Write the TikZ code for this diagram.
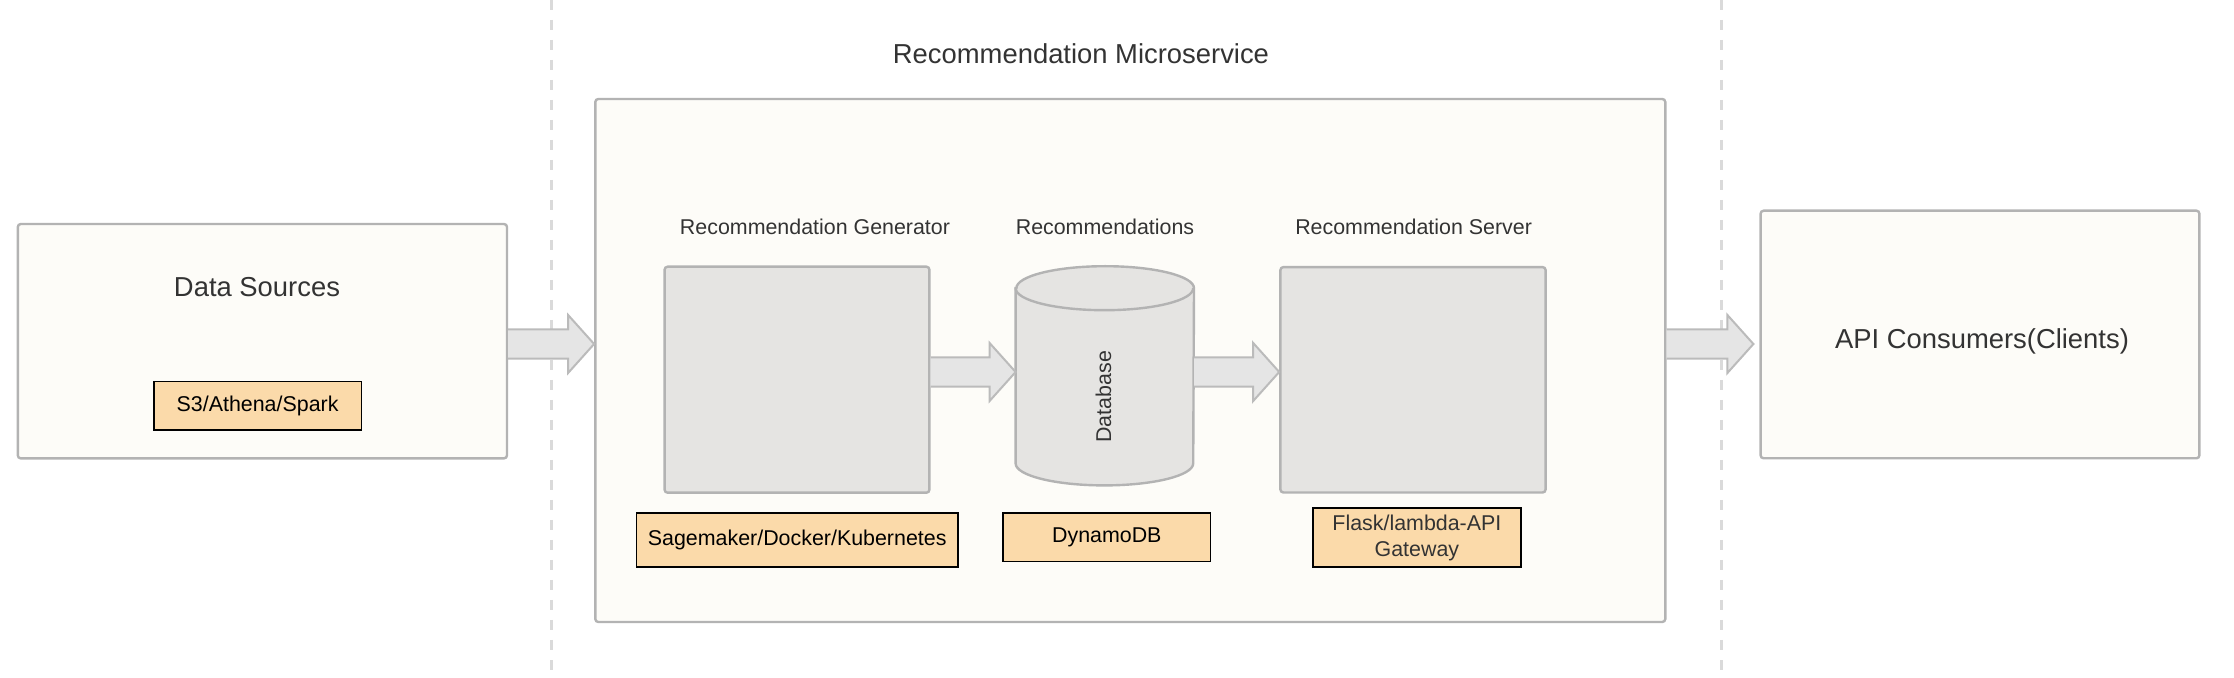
\documentclass[tikz,border=0pt]{standalone}
\usepackage{fontspec}
\setmainfont{Liberation Sans}
\usetikzlibrary{calc,positioning}

\definecolor{boxline}{HTML}{B3B3B3}
\definecolor{paper}{HTML}{FDFCF8}
\definecolor{innerfill}{HTML}{E5E4E2}
\definecolor{peach}{HTML}{FBDAAA}
\definecolor{sepline}{HTML}{DADADA}
\definecolor{textgray}{HTML}{333333}
\definecolor{arrowfill}{HTML}{E5E5E5}
\definecolor{arrowline}{HTML}{BBBBBB}

\tikzset{
  bigtext/.style={font=\fontsize{13.7}{16.4}\selectfont, text=textgray},
  smalltext/.style={font=\fontsize{10.7}{12.8}\selectfont, text=textgray},
  outerbox/.style={draw=boxline, fill=paper, line width=1.2pt, rounded corners=1.5pt, inner sep=0pt},
  innerbox/.style={draw=boxline, fill=innerfill, line width=1.2pt, rounded corners=1.5pt, inner sep=0pt},
  techbox/.style={draw=black, fill=peach, line width=0.8pt, inner sep=0pt, align=center,
    font=\fontsize{10.7}{12.8}\selectfont},
  blockarrow/.style={draw=arrowline, fill=arrowfill, line width=1pt, line join=miter},
  separator/.style={draw=sepline, line width=1.4pt, dash pattern=on 5pt off 5pt},
}

% fat arrow from #1 to tip #2 (same height)
\newcommand{\fatarrow}[2]{%
  \draw[blockarrow] ($(#1)+(0,7.3pt)$) -- ($(#2)+(-13pt,7.3pt)$) -- ($(#2)+(-13pt,14.5pt)$)
    -- (#2) -- ($(#2)+(-13pt,-14.5pt)$) -- ($(#2)+(-13pt,-7.3pt)$) -- ($(#1)+(0,-7.3pt)$);
}

\begin{document}
\begin{tikzpicture}[x=0.5pt,y=0.5pt]
       \useasboundingbox (0,0) rectangle (2234,-678);

       % separators
       \draw[separator] (551.7,0) -- (551.7,-678);
       \draw[separator] (1721.5,0) -- (1721.5,-678);

       \node[bigtext] (title) at (1081,-54) {Recommendation Microservice};

       \node[outerbox, minimum width=535pt, minimum height=261.5pt] (micro) at (1130.3,-360.5) {};
       \node[outerbox, minimum width=244.6pt, minimum height=117.2pt] (sources) at (262.4,-341.2) {};
       \node[outerbox, minimum width=219.4pt, minimum height=123.8pt] (clients) at (1980,-334.5) {};

       \node[bigtext] (sourcestext) at (257,-286.7) {Data Sources};
       \node[techbox, minimum width=103.8pt, minimum height=24.2pt] (s3) at (257.6,-405.8) {S3/Athena/Spark};
       \node[bigtext] (clientstext) at (1982,-341) {API Consumers(Clients)};

       % inside the microservice
       \node[smalltext] (gentext) at (815,-226.7) {Recommendation Generator};
       \node[smalltext] (dbtitle) at (1105,-226.7) {Recommendations};
       \node[smalltext] (servertext) at (1413.6,-226.7) {Recommendation Server};

       \node[innerbox, minimum width=132.4pt, minimum height=113pt] (generator) at (797,-379.7) {};
       \node[innerbox, minimum width=132.6pt, minimum height=112.7pt] (server) at (1413,-379.8) {};

       \node[inner sep=0pt, minimum width=88.8pt, minimum height=109.2pt] (db) at (1104.8,-375.8) {};
       \draw[innerbox, sharp corners] ([yshift=-11pt]db.north west) -- ([yshift=11pt]db.south west)
         arc[start angle=180, end angle=360, x radius=44.4pt, y radius=11pt]
         -- ([yshift=-11pt]db.north east)
         arc[start angle=0, end angle=180, x radius=44.4pt, y radius=11pt] -- cycle;
       \draw[draw=boxline, line width=1.2pt] ([yshift=-11pt]db.north west)
         arc[start angle=180, end angle=360, x radius=44.4pt, y radius=11pt];
       \node[smalltext, rotate=90] (dbtext) at (1103.5,-396.7) {Database};

       \node[techbox, minimum width=160.7pt, minimum height=27pt] (sagemaker) at (797.2,-540.3) {Sagemaker/Docker/Kubernetes};
       \node[techbox, minimum width=103.8pt, minimum height=24.2pt] (dynamo) at (1106.8,-537.5) {DynamoDB};
       \node[techbox, text=textgray, minimum width=103.8pt, minimum height=29.5pt] (flask) at (1416.9,-537.8) {Flask/lambda-API\\Gateway};

       % arrows
       \coordinate (a1s) at (sources.east |- 0,-344);
       \coordinate (a1e) at (micro.west |- 0,-344);
       \coordinate (a2s) at (generator.east |- 0,-372);
       \coordinate (a2e) at (db.west |- 0,-372);
       \coordinate (a3s) at (db.east |- 0,-372);
       \coordinate (a3e) at (server.west |- 0,-372);
       \coordinate (clientsin) at ([xshift=-3pt]clients.west);
       \coordinate (a4s) at (micro.east |- 0,-344);
       \coordinate (a4e) at (clientsin |- 0,-344);

       \fatarrow{a1s}{a1e}
       \fatarrow{a2s}{a2e}
       \fatarrow{a3s}{a3e}
       \fatarrow{a4s}{a4e}
     \end{tikzpicture}
\end{document}
